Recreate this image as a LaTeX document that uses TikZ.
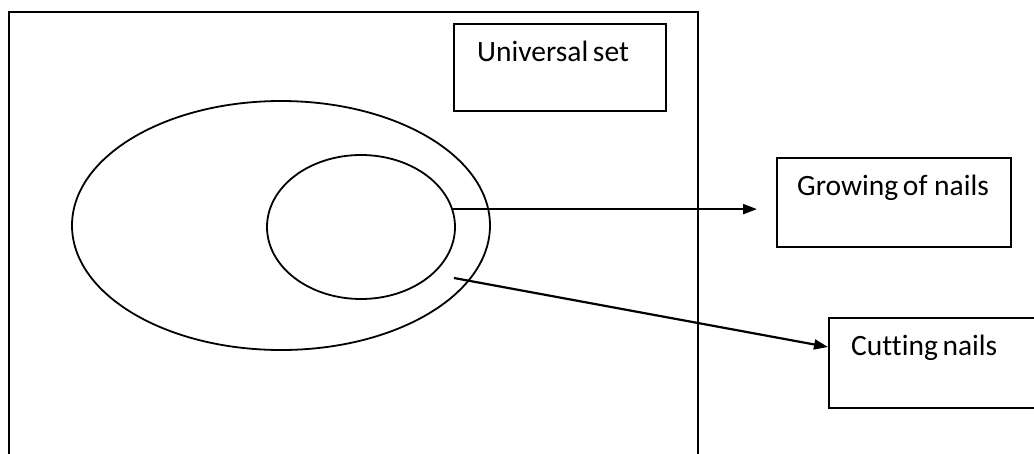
\documentclass[tikz,border=0pt]{standalone}
\usepackage{fontspec}
\setmainfont{Carlito}[Ligatures=NoCommon]
\usetikzlibrary{shapes.geometric, arrows.meta, positioning}

\begin{document}
\begin{tikzpicture}[
        x=1pt, y=-1pt,
        font=\fontsize{29.5}{34}\selectfont,
        frame/.style = {draw, rectangle, line width=2pt, inner sep=0pt},
        box/.style = {draw, rectangle, line width=2pt, inner sep=0pt, anchor=north west},
        label/.style = {anchor=base west, inner sep=0pt},
        set/.style = {draw, ellipse, line width=1.8pt, inner sep=0pt},
        arrow/.style = {draw=black, -{Triangle[length=14pt, width=10pt]}, line width=2.2pt}
    ]
        \useasboundingbox (0,0) rectangle (1034,453);

        % Universal set
        \node (universe) [frame, anchor=north west, minimum width=689pt, minimum height=470pt] at (8,11) {};
        \node (unibox) [box, minimum width=212pt, minimum height=87pt] at (453,23) {};
        \node (unitext) [label] at ([shift={(24pt,-38pt)}]unibox.north west) {Universal\hspace{-2pt} set};

        % Sets
        \node (outer) [set, minimum width=418pt, minimum height=249pt] at (281,225.5) {};
        \node (inner) [set, minimum width=188pt, minimum height=144pt] at (361,227) {};

        % Labels
        \node (growbox) [box, minimum width=234pt, minimum height=89pt] at (776,157) {};
        \node (growtext) [label] at ([shift={(21pt,-38pt)}]growbox.north west) {Growing\hspace{-2pt} of nails};
        \node (cutbox) [box, minimum width=215pt, minimum height=90pt] at (828,317) {};
        \node (cuttext) [label] at ([shift={(23pt,-38pt)}]cutbox.north west) {Cutting\hspace{-2pt} nails};

        % Arrows
        \coordinate (cutstart) at (454,278);
        \draw [arrow, shorten >=19pt] (inner.11) -- (inner.11 -| growbox.west);
        \draw [arrow] (cutstart) -- ([yshift=16pt]cutbox.west);

    \end{tikzpicture}
\end{document}
